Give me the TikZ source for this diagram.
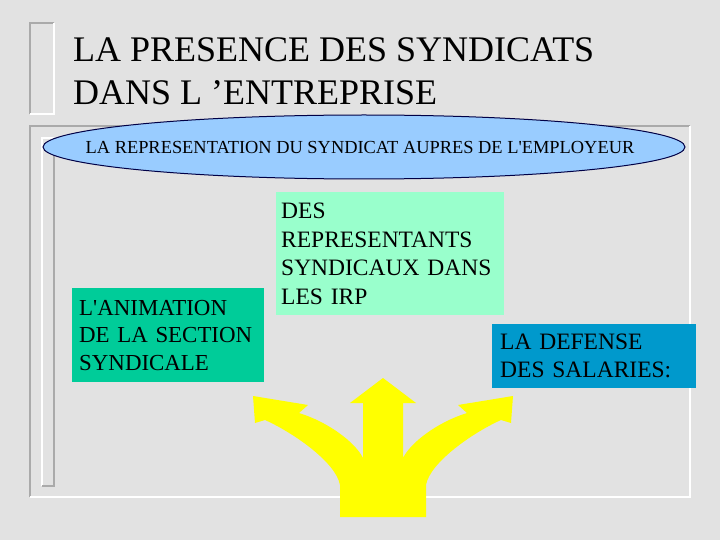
\documentclass[tikz,border=0pt]{standalone}
\usepackage{fontspec}
\setmainfont{Liberation Serif}
\usetikzlibrary{shapes.geometric}
\definecolor{bgmarble}{RGB}{226,226,226}
\definecolor{edgegrey}{RGB}{170,170,170}
\definecolor{ellblue}{RGB}{153,204,255}
\definecolor{ellline}{RGB}{0,0,70}
\definecolor{boxmint}{RGB}{153,255,204}
\definecolor{boxgreen}{RGB}{0,204,153}
\definecolor{boxblue}{RGB}{0,153,204}
\definecolor{arrowyellow}{RGB}{255,255,0}
\tikzset{
  titletext/.style={anchor=base west, inner sep=0pt, font=\fontsize{36}{43}\selectfont},
  colbox/.style={rectangle, anchor=north west, align=left, inner ysep=0pt, text=black},
  darkedge/.style={edgegrey, line width=2pt},
  lightedge/.style={white, line width=2pt}
}
\begin{document}
\begin{tikzpicture}[x=1pt,y=-1pt]
\fill[bgmarble] (0,0) rectangle (720,540);
\useasboundingbox (0,0) rectangle (720,540);
% title bracket
\draw[darkedge] (30,114) -- (30,23) -- (54,23);
\draw[lightedge] (54,23) -- (54,114) -- (30,114);
% frame
\draw[darkedge] (30,497) -- (30,126) -- (690,126);
\draw[lightedge] (690,126) -- (690,497) -- (30,497);
\draw[lightedge] (42,486) -- (42,138) -- (54,138);
\draw[darkedge] (54,138) -- (54,486) -- (42,486);
% title
\node[titletext] (t1) at (73,62) {LA PRESENCE DES SYNDICATS};
\node[titletext] (t2) at (73,105) {DANS L ’ENTREPRISE};
% ellipse
\node[ellipse, draw=ellline, line width=1pt, fill=ellblue, minimum width=642pt, minimum height=64pt, inner sep=0pt] (ell) at (364,147) {};
\node[anchor=base, inner sep=0pt, font=\fontsize{18.4}{20}\selectfont] (ellt) at (360,153.5) {LA REPRESENTATION DU SYNDICAT AUPRES DE L\textquotesingle EMPLOYEUR};
% boxes
\node[colbox, fill=boxmint, minimum width=228pt, minimum height=123pt, inner xsep=5pt, text width=218pt, font=\fontsize{23.5}{28.5}\selectfont] (b1) at (276,192) {DES\\REPRESENTANTS\\SYNDICAUX DANS\\LES IRP};
\node[colbox, fill=boxgreen, minimum width=192pt, minimum height=94pt, inner xsep=7pt, text width=178pt, font=\fontsize{22.9}{27.5}\selectfont] (b2) at (72,288) {L\textquotesingle ANIMATION\\DE LA SECTION\\SYNDICALE};
\node[colbox, fill=boxblue, minimum width=204pt, minimum height=64pt, inner xsep=8pt, text width=188pt, font=\fontsize{23.5}{28}\selectfont] (b3) at (492,324) {LA DEFENSE\\DES SALARIES:};
% three-way arrow
\fill[arrowyellow] (383,517) -- (340,517) -- (340,485)
  .. controls (336,462) and (292,432) .. (265,420)
  -- (255,423) -- (253,396) -- (308,405) -- (299,413)
  .. controls (328,422) and (355,442) .. (363,458)
  -- (363,403) -- (350,403) -- (383,378) -- (416,403) -- (403,403) -- (403,458)
  .. controls (411,442) and (438,422) .. (467,413)
  -- (458,405) -- (513,396) -- (511,423) -- (501,420)
  .. controls (474,432) and (430,462) .. (426,485)
  -- (426,517) -- cycle;
\end{tikzpicture}
\end{document}
